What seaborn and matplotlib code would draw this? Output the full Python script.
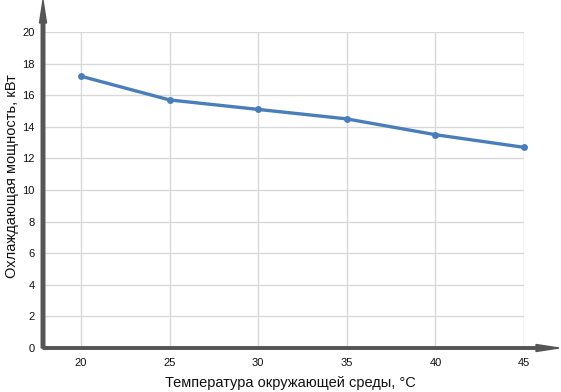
import matplotlib
matplotlib.use("Agg")
import matplotlib.pyplot as plt
import seaborn as sns
import pandas as pd

temperature = [20, 25, 30, 35, 40, 45]
cooling_kw = [17.2, 15.7, 15.1, 14.5, 13.5, 12.7]
y_ticks = [0, 2, 4, 6, 8, 10, 12, 14, 16, 18, 20]

sns.set_theme(style="white")
plt.rcParams['font.family'] = ['Liberation Sans', 'DejaVu Sans']

df = pd.DataFrame({"t": temperature, "p": cooling_kw})

fig = plt.figure(figsize=(5.61, 3.92), dpi=100)
ax = fig.add_axes([43/561, 1-348/392, (524-43)/561, (348-32)/392])

sns.lineplot(data=df, x="t", y="p", ax=ax, color="#4a7ebb", linewidth=2.4,
             marker="o", markersize=5, markeredgewidth=0, zorder=3)
for ln in ax.lines:
    ln.set_clip_on(False)

ax.set_xlim(20 - 38/17.72, 45)
ax.set_ylim(0, 20)
ax.set_xticks(temperature)
ax.set_yticks(y_ticks)
ax.grid(True, color="#d9d9d9", linewidth=1)
for s in ax.spines.values():
    s.set_visible(False)
ax.tick_params(axis="both", length=0, labelsize=8, colors="#111111")
ax.tick_params(axis="y", pad=6)
ax.tick_params(axis="x", pad=7)
ax.set_xlabel("")
ax.set_ylabel("")

ax_col = "#555555"
x0, y0 = 43/561, 1-348/392
fig.add_artist(matplotlib.patches.FancyArrow(x0, y0, 0, (348-0)/392,
               width=2.5/392, head_width=7/561, head_length=23/392,
               length_includes_head=True, color=ax_col, transform=fig.transFigure))
fig.add_artist(matplotlib.patches.FancyArrow(x0, y0, (559-43)/561, 0,
               width=2.5/392, head_width=7/392, head_length=23/561,
               length_includes_head=True, color=ax_col, transform=fig.transFigure))

fig.text(290/561, 1-383/392, "Температура окружающей среды, °C", ha="center", va="center",
         fontsize=10.5, color="#111111")
fig.text(12/561, 1-176/392, "Охлаждающая мощность, кВт", ha="center", va="center",
         rotation=90, fontsize=10.5, color="#111111")

fig.savefig("out.png", dpi=100)
